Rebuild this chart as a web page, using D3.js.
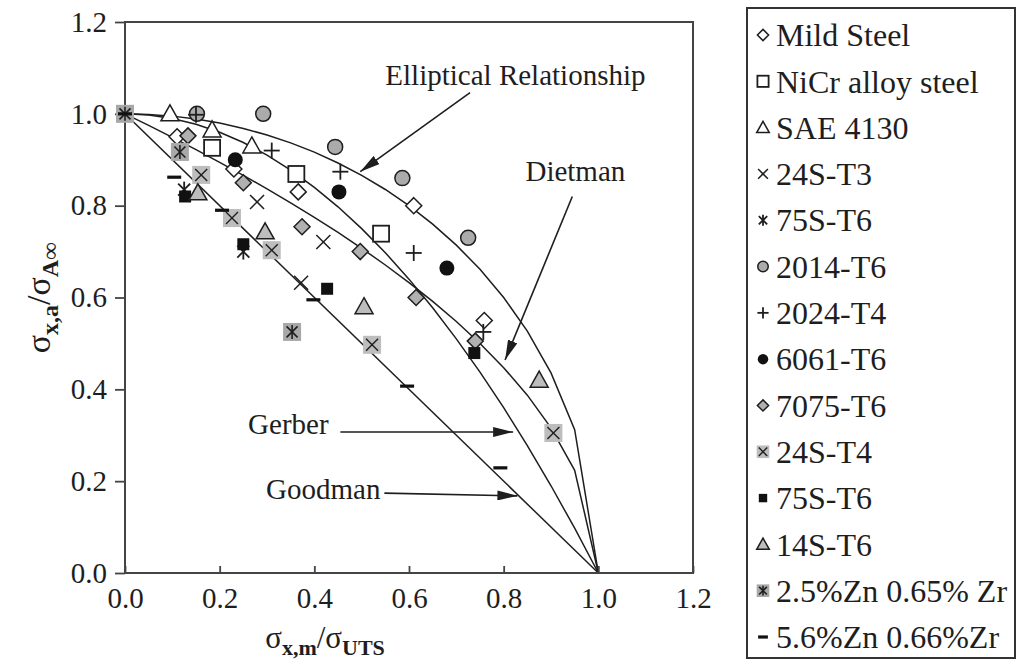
<!DOCTYPE html>
<html>
<head>
<meta charset="utf-8">
<script src="https://cdn.jsdelivr.net/npm/d3@7"></script>
<style>
  html, body { margin: 0; padding: 0; background: #fff; }
  svg { display: block; }
  svg text { font-family: "Liberation Serif", "Times New Roman", Times, serif !important; fill: #1e1e1e; }
</style>
</head>
<body>
<svg id="chart" width="1018" height="670"></svg>
<script>
// ---- axis ticks ----
const xTicks = [0, 0.2, 0.4, 0.6, 0.8, 1.0, 1.2];
const yTicks = [0, 0.2, 0.4, 0.6, 0.8, 1.0, 1.2];

// ---- test results: [mean stress ratio, amplitude ratio] ----
const mildSteel   = [[0.11, 0.95], [0.23, 0.88], [0.366, 0.83], [0.61, 0.80], [0.759, 0.55]];
const nicrSteel   = [[0.184, 0.926], [0.362, 0.869], [0.541, 0.739]];
const sae4130     = [[0.095, 1.0], [0.184, 0.965], [0.268, 0.93]];
const s24T3       = [[0.279, 0.808], [0.419, 0.721], [0.372, 0.632]];
const s75T6Star   = [[0.125, 0.835], [0.25, 0.70]];
const al2014T6    = [[0.152, 1.0], [0.292, 1.0], [0.444, 0.928], [0.586, 0.86], [0.725, 0.73]];
const al2024T4    = [[0.15, 0.998], [0.31, 0.92], [0.455, 0.874], [0.61, 0.697], [0.757, 0.525]];
const al6061T6    = [[0.233, 0.90], [0.452, 0.83], [0.68, 0.664]];
const al7075T6    = [[0.133, 0.952], [0.25, 0.85], [0.374, 0.754], [0.497, 0.70], [0.615, 0.60], [0.74, 0.505]];
const s24T4       = [[0.161, 0.867], [0.226, 0.773], [0.31, 0.703], [0.522, 0.497], [0.905, 0.305]];
const s75T6Square = [[0.127, 0.82], [0.25, 0.716], [0.427, 0.619], [0.738, 0.479]];
const s14T6       = [[0.154, 0.828], [0.296, 0.743], [0.505, 0.58], [0.875, 0.42]];
const zn25Zr065   = [[0, 1.0], [0.116, 0.917], [0.353, 0.525]];
const zn56Zr066   = [[0, 1.0], [0.104, 0.862], [0.205, 0.79], [0.398, 0.595], [0.596, 0.407], [0.793, 0.229]];

const seriesNames = ["Mild Steel", "NiCr alloy steel", "SAE 4130", "24S-T3", "75S-T6", "2014-T6",
  "2024-T4", "6061-T6", "7075-T6", "24S-T4", "75S-T6", "14S-T6", "2.5%Zn 0.65% Zr", "5.6%Zn 0.66%Zr"];
const seriesShapes = ["diamondOpen", "squareOpen", "triangleOpen", "cross", "asterisk", "circleGray",
  "plus", "circleBlack", "diamondGray", "graySquareX", "squareBlack", "triangleGray", "graySquareAsterisk", "dash"];
const seriesData = [mildSteel, nicrSteel, sae4130, s24T3, s75T6Star, al2014T6,
  al2024T4, al6061T6, al7075T6, s24T4, s75T6Square, s14T6, zn25Zr065, zn56Zr066];

// ---- fatigue criteria curves, sampled every 0.05 ----
const curveX      = [0, 0.05, 0.1, 0.15, 0.2, 0.25, 0.3, 0.35, 0.4, 0.45, 0.5, 0.55, 0.6, 0.65, 0.7, 0.75, 0.8, 0.85, 0.9, 0.95, 1.0];
const ellipticalY = [1, 0.9987, 0.9950, 0.9887, 0.9798, 0.9682, 0.9539, 0.9367, 0.9165, 0.8930, 0.8660, 0.8352, 0.8, 0.7599, 0.7141, 0.6614, 0.6, 0.5268, 0.4359, 0.3122, 0];
const dietmanY    = [1, 0.9747, 0.9487, 0.9220, 0.8944, 0.8660, 0.8367, 0.8062, 0.7746, 0.7416, 0.7071, 0.6708, 0.6325, 0.5916, 0.5477, 0.5, 0.4472, 0.3873, 0.3162, 0.2236, 0];
const gerberY     = [1, 0.9975, 0.99, 0.9775, 0.96, 0.9375, 0.91, 0.8775, 0.84, 0.7975, 0.75, 0.6975, 0.64, 0.5775, 0.51, 0.4375, 0.36, 0.2775, 0.19, 0.0975, 0];
const goodmanX    = [0, 1];
const goodmanY    = [1, 0];

// ---- curve callouts: label anchor, arrow tail and arrow head (data units) ----
const calloutText = ["Elliptical Relationship", "Dietman", "Gerber", "Goodman"];
const calloutPos  = [[0.55, 1.062], [0.846, 0.853], [0.26, 0.302], [0.298, 0.162]];
const arrowFrom   = [[0.729, 1.046], [0.945, 0.82], [0.455, 0.307], [0.548, 0.174]];
const arrowTo     = [[0.497, 0.874], [0.803, 0.464], [0.82, 0.307], [0.829, 0.168]];

// ---- layout ----
const svg = d3.select("#chart");
const x = d3.scaleLinear().domain([0, 1.2]).range([125, 693]);
const y = d3.scaleLinear().domain([0, 1.2]).range([573, 22]);
const ink = "#1e1e1e";
const serif = '"Liberation Serif", "Times New Roman", Times, serif';

// curves
const line = d3.line().x(d => x(d[0])).y(d => y(d[1]));
const curves = [
  curveX.map((v, i) => [v, ellipticalY[i]]),
  curveX.map((v, i) => [v, dietmanY[i]]),
  curveX.map((v, i) => [v, gerberY[i]]),
  goodmanX.map((v, i) => [v, goodmanY[i]])
];
svg.append("g").selectAll("path").data(curves).join("path")
  .attr("d", line).attr("fill", "none").attr("stroke", ink).attr("stroke-width", 1.5);

// frame
svg.append("rect")
  .attr("x", x(0)).attr("y", y(1.2))
  .attr("width", x(1.2) - x(0)).attr("height", y(0) - y(1.2))
  .attr("fill", "none").attr("stroke", "#444").attr("stroke-width", 2);

// axes
const yAxis = svg.append("g").attr("transform", `translate(${x(0)},0)`)
  .call(d3.axisLeft(y).tickValues(yTicks).tickFormat(d3.format(".1f")).tickSize(10).tickPadding(8));
const xAxis = svg.append("g").attr("transform", `translate(0,${y(0)})`)
  .call(d3.axisBottom(x).tickValues(xTicks).tickFormat(d3.format(".1f")).tickSize(-7).tickPadding(14));
[xAxis, yAxis].forEach(a => {
  a.attr("font-family", serif);
  a.select(".domain").remove();
  a.selectAll("line").attr("stroke", "#444").attr("stroke-width", 1.8);
  a.selectAll("text").attr("font-size", 29).attr("fill", ink).attr("font-family", serif);
});

// marker glyphs
function drawMarker(g, shape, s) {
  const st = (sel, w) => sel.attr("stroke", ink).attr("stroke-width", w);
  const crossArms = (r, w) => {
    st(g.append("line").attr("x1", -r).attr("y1", -r).attr("x2", r).attr("y2", r), w);
    st(g.append("line").attr("x1", -r).attr("y1", r).attr("x2", r).attr("y2", -r), w);
  };
  switch (shape) {
    case "diamondOpen":
    case "diamondGray":
      st(g.append("path").attr("d", `M0,${-8*s}L${8*s},0L0,${8*s}L${-8*s},0Z`)
        .attr("fill", shape === "diamondOpen" ? "#fff" : "#b0b0b0"), 1.5);
      break;
    case "squareOpen":
      st(g.append("rect").attr("x", -8*s).attr("y", -8*s).attr("width", 16*s).attr("height", 16*s)
        .attr("fill", "#fff"), 1.8);
      break;
    case "squareBlack":
      g.append("rect").attr("x", -6*s).attr("y", -6*s).attr("width", 12*s).attr("height", 12*s).attr("fill", "#111");
      break;
    case "triangleOpen":
    case "triangleGray":
      st(g.append("path").attr("d", `M0,${-9*s}L${9*s},${7*s}L${-9*s},${7*s}Z`)
        .attr("fill", shape === "triangleOpen" ? "#fff" : "#bdbdbd"), 1.5);
      break;
    case "cross":
      crossArms(7*s, 1.5);
      break;
    case "plus":
      st(g.append("line").attr("x1", -8*s).attr("x2", 8*s).attr("y1", 0).attr("y2", 0), 1.8);
      st(g.append("line").attr("y1", -8*s).attr("y2", 8*s).attr("x1", 0).attr("x2", 0), 1.8);
      break;
    case "asterisk":
      crossArms(6*s, 1.8);
      st(g.append("line").attr("y1", -8*s).attr("y2", 8*s).attr("x1", 0).attr("x2", 0), 1.8);
      break;
    case "circleGray":
      st(g.append("circle").attr("r", 7.5*s).attr("fill", "#ababab"), 1.5);
      break;
    case "circleBlack":
      g.append("circle").attr("r", 7.5*s).attr("fill", "#111");
      break;
    case "graySquareX":
      g.append("rect").attr("x", -9*s).attr("y", -9*s).attr("width", 18*s).attr("height", 18*s).attr("fill", "#bdbdbd");
      crossArms(6*s, 1.4);
      break;
    case "graySquareAsterisk":
      g.append("rect").attr("x", -9*s).attr("y", -9*s).attr("width", 18*s).attr("height", 18*s).attr("fill", "#a8a8a8");
      crossArms(5.5*s, 1.6);
      st(g.append("line").attr("y1", -7*s).attr("y2", 7*s).attr("x1", 0).attr("x2", 0), 1.6);
      break;
    case "dash":
      g.append("rect").attr("x", -7*s).attr("y", -1.6).attr("width", 14*s).attr("height", 3.2).attr("fill", "#111");
      break;
  }
}

// data points
const pts = svg.append("g");
seriesData.forEach((arr, i) => {
  arr.forEach(d => {
    const g = pts.append("g").attr("transform", `translate(${x(d[0])},${y(d[1])})`);
    drawMarker(g, seriesShapes[i], 1);
  });
});

// callouts
const defs = svg.append("defs");
defs.append("marker").attr("id", "head").attr("viewBox", "0 0 20 10")
  .attr("refX", 20).attr("refY", 5).attr("markerWidth", 20).attr("markerHeight", 10)
  .attr("markerUnits", "userSpaceOnUse").attr("orient", "auto")
  .append("path").attr("d", "M0,0L20,5L0,10Z").attr("fill", ink);
calloutText.forEach((t, i) => {
  svg.append("text").attr("x", x(calloutPos[i][0])).attr("y", y(calloutPos[i][1]))
    .attr("font-family", serif).attr("font-size", 29).text(t);
  svg.append("line")
    .attr("x1", x(arrowFrom[i][0])).attr("y1", y(arrowFrom[i][1]))
    .attr("x2", x(arrowTo[i][0])).attr("y2", y(arrowTo[i][1]))
    .attr("stroke", ink).attr("stroke-width", 1.6).attr("marker-end", "url(#head)");
});

// axis titles
const xt = svg.append("text").attr("x", 325).attr("y", 648).attr("text-anchor", "middle")
  .attr("font-family", serif).attr("font-size", 31);
xt.append("tspan").text("σ");
xt.append("tspan").attr("dy", 7).attr("font-size", 22).attr("font-weight", "bold").text("x,m");
xt.append("tspan").attr("dy", -7).text("/σ");
xt.append("tspan").attr("dy", 7).attr("font-size", 22).attr("font-weight", "bold").text("UTS");

const yt = svg.append("text").attr("transform", "translate(50,298) rotate(-90)")
  .attr("text-anchor", "middle").attr("font-family", serif).attr("font-size", 34);
yt.append("tspan").text("σ");
yt.append("tspan").attr("dy", 8).attr("font-size", 24).attr("font-weight", "bold").text("x,a");
yt.append("tspan").attr("dy", -8).text("/σ");
yt.append("tspan").attr("dy", 8).attr("font-size", 24).attr("font-weight", "bold").text("A∞");

// legend
const lg = svg.append("g");
lg.append("rect").attr("x", 747).attr("y", 8).attr("width", 268).attr("height", 650)
  .attr("fill", "#fff").attr("stroke", "#333").attr("stroke-width", 2);
const rowY = d3.scalePoint().domain(d3.range(seriesNames.length)).range([35, 637]);
seriesNames.forEach((name, i) => {
  const g = lg.append("g").attr("transform", `translate(763,${rowY(i)})`);
  drawMarker(g, seriesShapes[i], 0.7);
  lg.append("text").attr("x", 776).attr("y", rowY(i)).attr("dy", "0.35em")
    .attr("font-family", serif).attr("font-size", 32).text(name);
});
</script>
</body>
</html>
